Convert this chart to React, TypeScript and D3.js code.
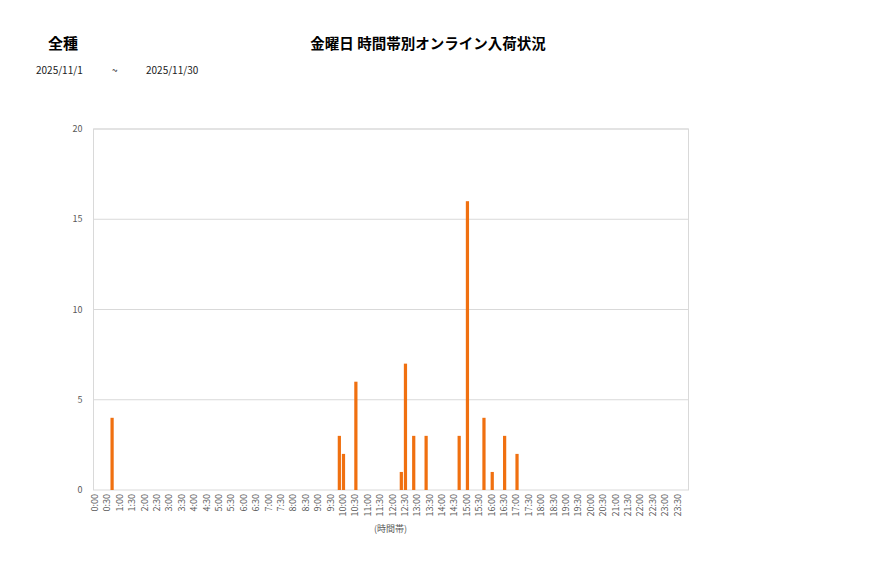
import * as d3 from 'd3';
import React, { useEffect, useRef } from 'react';

// 10-minute time slots that have arrivals, and their counts
const slotTimes = ['0:40', '9:50', '10:00', '10:30', '12:20', '12:30', '12:50', '13:20', '14:40', '15:00', '15:40', '16:00', '16:30', '17:00'];
const slotCounts = [4, 3, 2, 6, 1, 7, 3, 3, 3, 16, 4, 1, 3, 2];
const yTicks = [0, 5, 10, 15, 20];

const fmt = (m: number) => `${Math.floor(m / 60)}:${String(m % 60).padStart(2, '0')}`;
const allSlots = d3.range(0, 24 * 60, 10).map(fmt);
const tickLabels = d3.range(0, 24 * 60, 30).map(fmt);

const FONT = '"Noto Sans CJK JP", "Noto Sans", sans-serif';

export default () => {
    const ref = useRef<any>();

    useEffect(() => {
        const width = 877;
        const height = 578;
        const margin = { top: 129, left: 93.5, right: 877 - 688.5, bottom: 578 - 490 };
        const boundedWidth = width - margin.left - margin.right;
        const boundedHeight = height - margin.top - margin.bottom;

        const svg = d3.select<any, any>(ref.current).attr('width', width).attr('height', height);
        svg.selectAll('*').remove();

        svg.append('text').text('全種').attr('x', 48).attr('y', 49)
            .attr('font-size', 15).attr('font-weight', 'bold').attr('font-family', FONT);
        svg.append('text').text('金曜日 時間帯別オンライン入荷状況').attr('x', 428).attr('y', 49)
            .attr('text-anchor', 'middle').attr('font-size', 14.5).attr('font-weight', 'bold').attr('font-family', FONT);
        [['2025/11/1', 36], ['~', 112], ['2025/11/30', 146]].forEach(([t, x]) => {
            svg.append('text').text(t as string).attr('x', x as number).attr('y', 74)
                .attr('font-size', 10).attr('font-family', FONT).attr('fill', '#222');
        });

        const stage = svg.append('g').attr('transform', `translate(${margin.left},${margin.top})`);

        const x = d3.scaleBand().domain(allSlots).range([0, boundedWidth]).paddingInner(0.22).paddingOuter(0.11);
        const xEdge = d3.scaleBand().domain(allSlots).range([0, boundedWidth]);
        const y = d3.scaleLinear().domain([0, 20]).range([boundedHeight, 0]);

        stage.append('g').selectAll('line').data(yTicks.slice(1)).join('line')
            .attr('x1', 0).attr('x2', boundedWidth)
            .attr('y1', (d) => y(d)).attr('y2', (d) => y(d))
            .attr('stroke', '#d9d9d9').attr('stroke-width', 1);
        stage.append('rect').attr('width', boundedWidth).attr('height', boundedHeight)
            .attr('fill', 'none').attr('stroke', '#d9d9d9').attr('stroke-width', 1);

        stage.append('g').selectAll('text').data(yTicks).join('text')
            .text((d) => d).attr('x', -11).attr('y', (d) => y(d) + 3)
            .attr('text-anchor', 'end').attr('font-size', 9).attr('fill', '#595959').attr('font-family', FONT);

        stage.append('g').selectAll('rect').data(slotTimes).join('rect')
            .attr('x', (d) => x(d) as number).attr('width', x.bandwidth())
            .attr('y', (d, i) => y(slotCounts[i])).attr('height', (d, i) => boundedHeight - y(slotCounts[i]))
            .attr('fill', '#f07010');

        stage.append('g').selectAll('text').data(tickLabels).join('text')
            .text((d) => d)
            .attr('transform', (d) => `translate(${(xEdge(d) as number) + 4.5},${boundedHeight + 4}) rotate(-90)`)
            .attr('text-anchor', 'end').attr('font-size', 9).attr('fill', '#595959').attr('font-family', FONT);

        stage.append('text').text('(時間帯)').attr('x', 297).attr('y', boundedHeight + 42)
            .attr('text-anchor', 'middle').attr('font-size', 9).attr('fill', '#595959').attr('font-family', FONT);
    });

    return (
        <React.Fragment>
            <svg ref={ref} style={{ position: 'absolute', left: 0, top: 0 }}></svg>
        </React.Fragment>
    );
};
